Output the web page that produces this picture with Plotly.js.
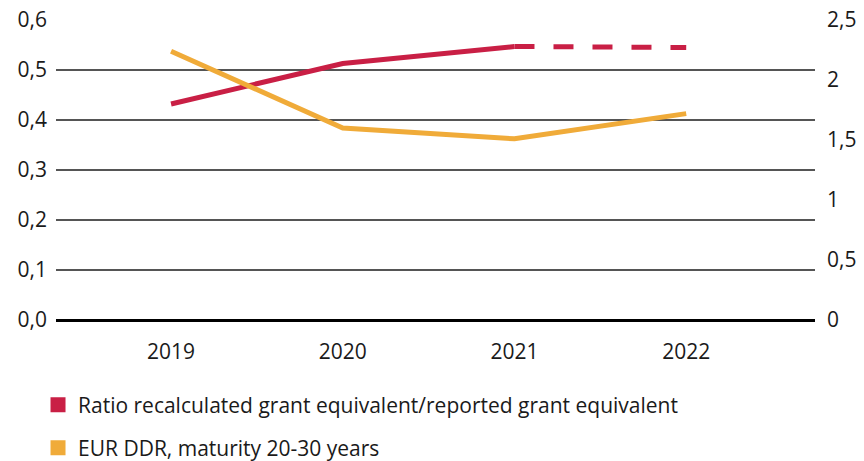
<!DOCTYPE html>
<html>
<head>
<meta charset="utf-8">
<script src="https://cdn.plot.ly/plotly-3.0.1.min.js"></script>
<style>
  body { margin: 0; background: #fff; }
  #chart { width: 864px; height: 461px; }
</style>
</head>
<body>
<div id="chart"></div>
<script>
// values
const years = ["2019", "2020", "2021", "2022"];
const ratio = [0.432, 0.513, 0.547, 0.545];   // left axis
const ddr = [2.24, 1.60, 1.51, 1.72];          // right axis
const ratioName = "Ratio recalculated grant equivalent/reported grant equivalent";
const ddrName = "EUR DDR, maturity 20-30 years";

const red = "#C91F45";
const yellow = "#F0AB39";
const fnt = { family: "'Open Sans', Lato, sans-serif", size: 21, color: "#1a1a1a" };

const data = [
    {   // ratio, reported years
        x: years.slice(0, 3),
        y: ratio.slice(0, 3),
        mode: "lines",
        line: { color: red, width: 5 },
        showlegend: false,
        hoverinfo: "skip"
    },
    {   // ratio, last year dashed
        x: years.slice(2),
        y: ratio.slice(2),
        mode: "lines",
        line: { color: red, width: 5, dash: "20px,19px" },
        showlegend: false,
        hoverinfo: "skip"
    },
    {
        x: years,
        y: ddr,
        yaxis: "y2",
        mode: "lines",
        line: { color: yellow, width: 5 },
        showlegend: false,
        hoverinfo: "skip"
    },
    // legend entries with square symbols
    {
        x: [null], y: [null],
        mode: "markers",
        marker: { symbol: "square", size: 15, color: red },
        name: ratioName,
        legend: "legend"
    },
    {
        x: [null], y: [null],
        mode: "markers",
        marker: { symbol: "square", size: 15, color: yellow },
        name: ddrName,
        legend: "legend2"
    }
];

const layout = {
    width: 864,
    height: 461,
    margin: { l: 56, r: 49, t: 20, b: 141, autoexpand: false },
    paper_bgcolor: "#fff",
    plot_bgcolor: "#fff",
    font: fnt,
    separators: ",.",
    xaxis: {
        type: "category",
        range: [-0.67, 3.75],
        showgrid: false,
        showline: false,
        zeroline: false,
        ticks: "",
        ticklabelstandoff: 17,
        tickfont: fnt
    },
    yaxis: {
        range: [0, 0.6],
        dtick: 0.1,
        tickformat: ".1f",
        showgrid: true,
        gridcolor: "#555",
        gridwidth: 1.4,
        zeroline: true,
        zerolinecolor: "#000",
        zerolinewidth: 3,
        showline: false,
        ticks: "",
        ticklabelstandoff: 8,
        tickfont: fnt
    },
    yaxis2: {
        overlaying: "y",
        side: "right",
        range: [0, 2.5],
        dtick: 0.5,
        showgrid: false,
        zeroline: false,
        showline: false,
        ticks: "",
        ticklabelstandoff: 11,
        tickfont: fnt
    },
    legend: {
        xref: "container", yref: "container",
        x: 0.044, y: 1 - 405 / 461,
        xanchor: "left", yanchor: "middle",
        font: fnt,
        bgcolor: "rgba(0,0,0,0)"
    },
    legend2: {
        xref: "container", yref: "container",
        x: 0.044, y: 1 - 448 / 461,
        xanchor: "left", yanchor: "middle",
        font: fnt,
        bgcolor: "rgba(0,0,0,0)"
    }
};

Plotly.newPlot("chart", data, layout, { staticPlot: true });
</script>
</body>
</html>
